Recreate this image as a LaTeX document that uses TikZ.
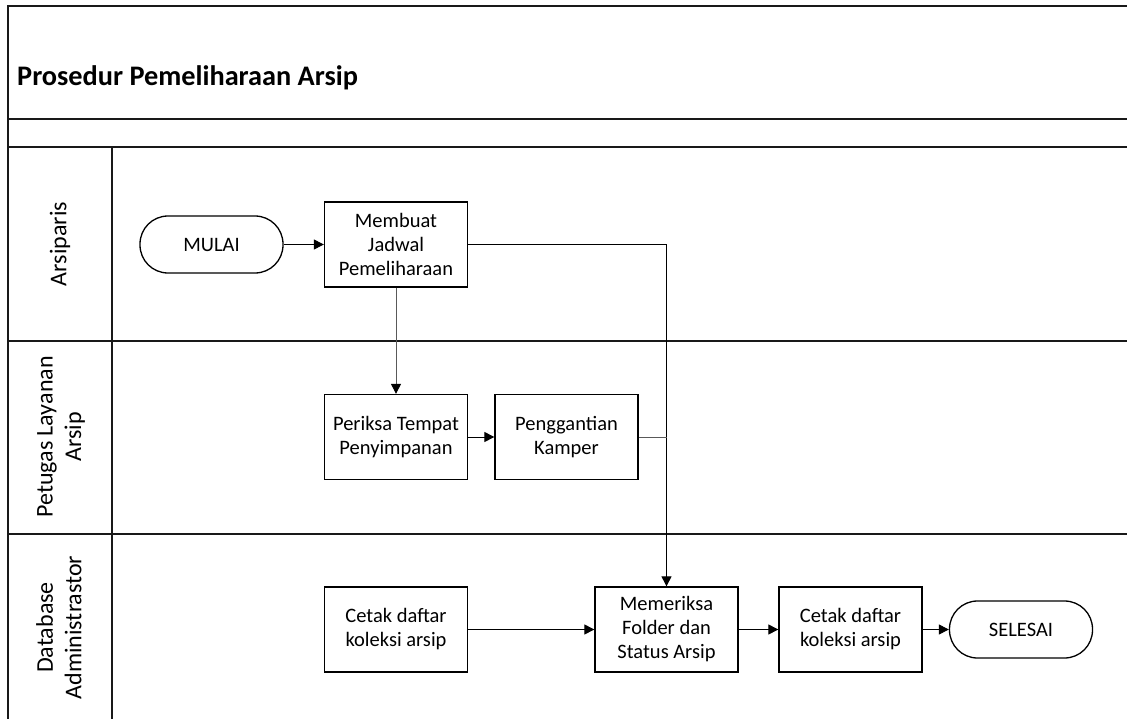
\documentclass[tikz,border=0pt]{standalone}
\usepackage{fontspec}
\setmainfont{Carlito}
\usetikzlibrary{arrows.meta}
\begin{document}
\begin{tikzpicture}[x=1pt,y=-1pt,
  frame/.style={line width=1.8pt,black!90},
  proc/.style={draw,line width=1.3pt,minimum width=143pt,minimum height=85pt,align=center,inner sep=2pt,font=\fontsize{20.5}{24}\selectfont},
  term/.style={draw,line width=1.3pt,minimum width=143pt,minimum height=57pt,rounded corners=28pt,align=center,font=\fontsize{20.5}{24}\selectfont},
  lane/.style={rotate=90,align=center,font=\fontsize{24}{28.5}\selectfont},
  flow/.style={line width=1pt,-{Triangle[length=10pt,width=10pt]}},
  flowg/.style={line width=1pt,black!65,-{Triangle[length=10pt,width=10pt,color=black]}},
  link/.style={line width=1pt},
  linkg/.style={line width=1pt,black!65}]
\useasboundingbox (0,0) rectangle (1127,719);
% frame
\draw[frame] (1127,6) -- (8,6) -- (8,719);
\draw[frame] (8,119) -- (1127,119);
\draw[frame] (8,147) -- (1127,147);
\draw[frame] (8,341) -- (1127,341);
\draw[frame] (8,534) -- (1127,534);
\draw[frame] (112,147) -- (112,719);
% title
\node[anchor=west,font=\fontsize{28.3}{33}\selectfont\bfseries,inner sep=0pt] (title) at (17,78) {Prosedur Pemeliharaan Arsip};
% lane labels
\node[lane] (l1) at (60,244) {Arsiparis};
\node[lane] (l2) at (61,437) {Petugas Layanan\\Arsip};
\node[lane] (l3) at (59,627.5) {Database\\Administrastor};
% nodes
\node[term] (mulai) at (211.5,244.5) {MULAI};
\node[proc] (membuat) at (396,244.5) {Membuat\\Jadwal\\Pemeliharaan};
\node[proc] (periksa) at (396,437) {Periksa Tempat\\Penyimpanan};
\node[proc] (kamper) at (566.5,437) {Penggantian\\Kamper};
\node[proc] (cetak1) at (396,629.5) {Cetak daftar\\koleksi arsip};
\node[proc] (memeriksa) at (666.5,629.5) {Memeriksa\\Folder dan\\Status Arsip};
\node[proc] (cetak2) at (850.5,629.5) {Cetak daftar\\koleksi arsip};
\node[term] (selesai) at (1021,629.5) {SELESAI};
% connectors
\draw[flow] (mulai.east) -- (membuat.west);
\draw[flow] (membuat.east) -| (memeriksa.north);
\draw[flowg] (membuat.south) -- (periksa.north);
\draw[flow] (periksa.east) -- (kamper.west);
\draw[linkg] (kamper.east) -- (kamper.east -| memeriksa.north);
\draw[flow] (cetak1.east) -- (memeriksa.west);
\draw[flow] (memeriksa.east) -- (cetak2.west);
\draw[flow] (cetak2.east) -- (selesai.west);
\end{tikzpicture}
\end{document}
